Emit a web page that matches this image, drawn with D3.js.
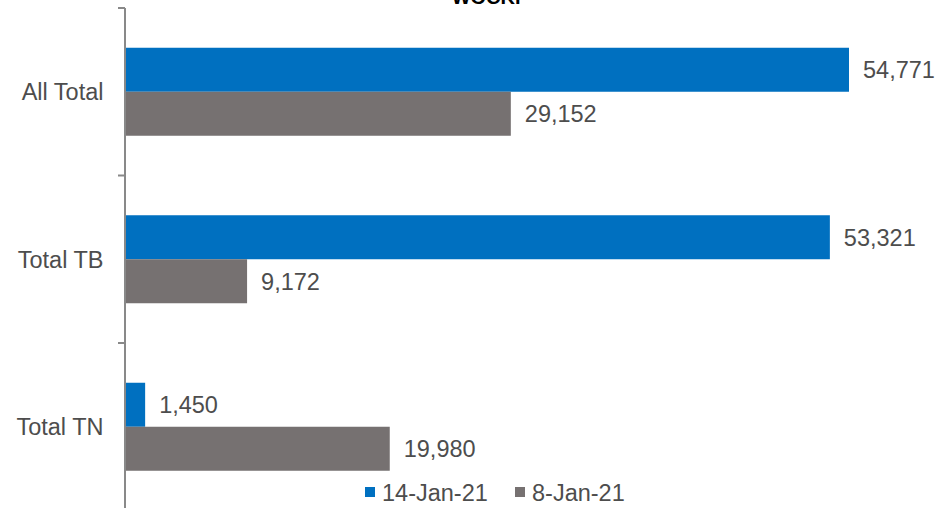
<!DOCTYPE html>
<html><head><meta charset="utf-8">
<script src="https://cdn.jsdelivr.net/npm/d3@7/dist/d3.min.js"></script>
<style>body{margin:0;background:#fff}svg{display:block;font-family:"Liberation Sans",Arial,sans-serif}</style>
</head><body><svg id="c" width="939" height="508"></svg>
<script>
const title = "WOCKP";
const categories = ["All Total", "Total TB", "Total TN"];
const seriesNames = ["14-Jan-21", "8-Jan-21"];
const jan14 = [54771, 53321, 1450];
const jan8 = [29152, 9172, 19980];
const colors = ["#0070C0", "#767171"];

const svg = d3.select("#c");
const x = d3.scaleLinear().domain([0, 54771]).range([126, 849]);
const y0 = d3.scaleBand().domain(categories).range([8, 510.5]).padding(0);
const y1 = d3.scaleBand().domain(seriesNames).range([0, 88]);
const off = (y0.bandwidth() - 88) / 2;
const fmt = d3.format(",");
const fs = 23.5, txtCol = "#4d4d4d";

const data = [];
categories.forEach((c, i) => {
  data.push({c, s: seriesNames[0], v: jan14[i], col: colors[0]});
  data.push({c, s: seriesNames[1], v: jan8[i], col: colors[1]});
});

svg.append("text").attr("x", 490).attr("y", 4).attr("text-anchor", "middle")
  .attr("font-size", 20).attr("font-weight", "bold").attr("fill", "#000").text(title);

svg.selectAll("rect.bar").data(data).enter().append("rect").attr("class", "bar")
  .attr("x", x(0)).attr("y", d => y0(d.c) + off + y1(d.s))
  .attr("width", d => x(d.v) - x(0)).attr("height", y1.bandwidth())
  .attr("fill", d => d.col);

svg.selectAll("text.val").data(data).enter().append("text").attr("class", "val")
  .attr("x", d => x(d.v) + 14).attr("y", d => y0(d.c) + off + y1(d.s) + y1.bandwidth() / 2 + 8.6)
  .attr("font-size", fs).attr("fill", txtCol).text(d => fmt(d.v));

// axis
const ax = svg.append("g").attr("stroke", "#898989").attr("stroke-width", 2);
ax.append("line").attr("x1", 125).attr("x2", 125).attr("y1", 8).attr("y2", 510.5);
const edges = categories.map(c => y0(c)).concat([y0(categories[categories.length - 1]) + y0.step()]);
ax.selectAll("line.t").data(edges).enter().append("line").attr("class", "t")
  .attr("x1", 118).attr("x2", 125).attr("y1", d => d).attr("y2", d => d);

svg.selectAll("text.cat").data(categories).enter().append("text").attr("class", "cat")
  .attr("x", 103.5).attr("y", d => y0(d) + y0.bandwidth() / 2 + 8.4)
  .attr("text-anchor", "end").attr("font-size", fs).attr("fill", txtCol).text(d => d);

// legend
const legX = [365, 515];
const lg = svg.selectAll("g.leg").data(seriesNames).enter().append("g").attr("class", "leg")
  .attr("transform", (d, i) => `translate(${legX[i]},487)`);
lg.append("rect").attr("width", 10).attr("height", 10).attr("fill", (d, i) => colors[i]);
lg.append("text").attr("x", 17).attr("y", 13.5).attr("font-size", fs).attr("fill", txtCol).text(d => d);
</script></body></html>
